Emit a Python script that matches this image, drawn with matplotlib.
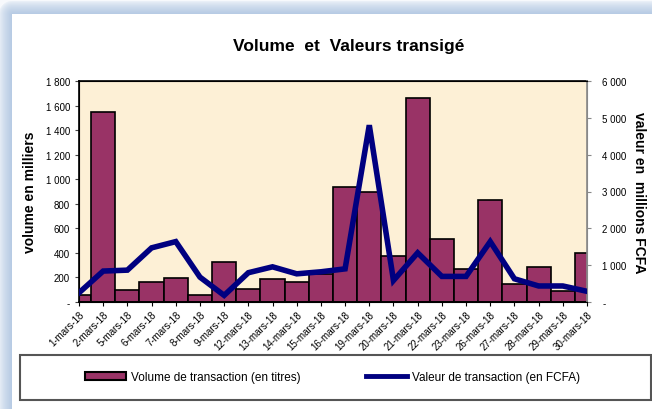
import numpy as np
import matplotlib
matplotlib.use("Agg")
import matplotlib.pyplot as plt
from matplotlib.patches import Rectangle, Patch
from matplotlib.lines import Line2D
from matplotlib.ticker import FuncFormatter

plt.rcParams["font.family"] = ["Liberation Sans", "DejaVu Sans"]

dates = ["1-mars-18", "2-mars-18", "5-mars-18", "6-mars-18", "7-mars-18", "8-mars-18",
         "9-mars-18", "12-mars-18", "13-mars-18", "14-mars-18", "15-mars-18", "16-mars-18",
         "19-mars-18", "20-mars-18", "21-mars-18", "22-mars-18", "23-mars-18", "26-mars-18",
         "27-mars-18", "28-mars-18", "29-mars-18", "30-mars-18"]
volume = [58, 1545, 95, 160, 192, 60, 325, 103, 184, 165, 230, 934,
          893, 371, 1665, 517, 271, 828, 146, 282, 92, 400]
valeur = [250, 840, 865, 1470, 1640, 675, 180, 795, 955, 765, 820, 900,
          4800, 585, 1335, 695, 695, 1640, 630, 435, 435, 290]

BAR_COLOR = "#993366"
LINE_COLOR = "#000080"
W, H = 652, 410


def fmt(v, _pos):
    return "-" if v == 0 else f"{int(v):,}".replace(",", " ")


fig = plt.figure(figsize=(W / 100, H / 100), dpi=100)

# blue shadowed frame around the white panel
bg = fig.add_axes([0, 0, 1, 1], zorder=-10)
yy, xx = np.mgrid[0:H, 0:W]
dx = np.clip(12 - xx, 0, None)
dy = np.clip(15 - yy, 0, None)
d = np.hypot(dx, dy)
t = np.clip(d / 14, 0, 1)
blue = np.array([0.71, 0.79, 0.89])
img = np.ones((H, W, 3))
outside = d > 0
fade = (1 - t[outside])[:, None] ** 0.6
img[outside] = blue * fade + np.array([0.97, 0.98, 0.99]) * (1 - fade)
bg.imshow(img, extent=(0, W, H, 0), aspect="auto")
bg.set_xlim(0, W)
bg.set_ylim(H, 0)
bg.axis("off")

ax = fig.add_axes([79 / W, 1 - 303 / H, 508 / W, 221 / H])
x = np.arange(len(dates))
ax.set_facecolor("#FDF0D6")
ax.bar(x, volume, width=1.0, color=BAR_COLOR, edgecolor="black", linewidth=1.2, zorder=2)
ax.set_xlim(0, len(dates) - 1)
ax.set_ylim(0, 1800)
ax.set_yticks(range(0, 1801, 200))
ax.yaxis.set_major_formatter(FuncFormatter(fmt))
ax.set_xticks(x)
ax.set_xticklabels(dates, rotation=45, ha="right", rotation_mode="anchor", fontsize=7)
ax.tick_params(axis="y", labelsize=7, length=3, color="#444444")
ax.tick_params(axis="x", length=3, pad=2)
for side in ["left", "bottom", "top"]:
    ax.spines[side].set_linewidth(1.2)
ax.spines["right"].set_color("#888888")
ax.set_ylabel("volume en milliers", fontsize=10, fontweight="bold", labelpad=6)

ax2 = ax.twinx()
ax2.plot(x, valeur, color=LINE_COLOR, linewidth=4, solid_joinstyle="miter", zorder=3)
ax2.set_ylim(0, 6000)
ax2.set_yticks(range(0, 6001, 1000))
ax2.yaxis.set_major_formatter(FuncFormatter(fmt))
ax2.tick_params(axis="y", labelsize=7, length=3, color="#888888", pad=8)
ax2.spines["right"].set_color("#888888")
ax2.spines["right"].set_linewidth(1.2)
ax2.set_ylabel("valeur en  millions FCFA", fontsize=10, fontweight="bold",
               rotation=270, labelpad=14)

fig.text(349 / W, 1 - 47 / H, "Volume  et  Valeurs transigé", ha="center", va="center",
         fontsize=12.5, fontweight="bold")

# legend box
fig.patches.append(Rectangle((20 / W, 1 - 401 / H), 631 / W, 45 / H, transform=fig.transFigure,
                             facecolor="white", edgecolor="#555555", linewidth=1.5, zorder=1))
handles = [Patch(facecolor=BAR_COLOR, edgecolor="black", linewidth=1.5),
           Line2D([0], [0], color=LINE_COLOR, linewidth=3.5)]
fig.legend(handles, ["Volume de transaction (en titres)", "Valeur de transaction (en FCFA)"],
           loc="center left", bbox_to_anchor=(85 / W, 1 - 378 / H), ncol=2, frameon=False,
           fontsize=8.5, handlelength=3.5, handletextpad=0.4, columnspacing=5.5,
           borderpad=0, borderaxespad=0)

fig.savefig("out.png", dpi=100)
